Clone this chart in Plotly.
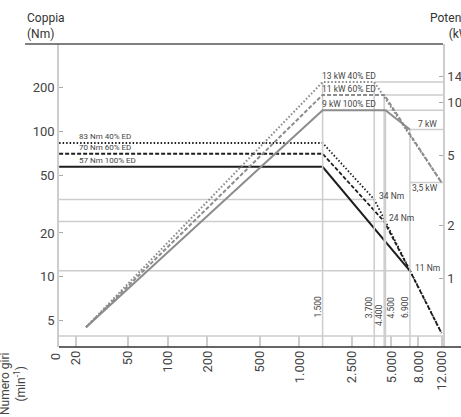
import math
import plotly.graph_objects as go

# ---------------- data ----------------
rpm_ticks = [20, 50, 100, 200, 500, 1000, 2500, 5000, 8000, 12000]
rpm_tick_text = ["20", "50", "100", "200", "500", "1.000", "2.500", "5.000", "8.000", "12.000"]
torque_ticks = [5, 10, 20, 50, 100, 200]
power_ticks = [1, 2, 5, 10, 14]

# torque curves (rpm, Nm)
t40_rpm = [15, 1500, 3700, 6900, 12000]
t40_nm = [83, 83, 34, 11, 4.1]
t60_rpm = [15, 1500, 4400, 6900, 12000]
t60_nm = [70, 70, 24, 11, 4.1]
t100_rpm = [15, 1500, 6900]
t100_nm = [57, 57, 11]

# power curves (rpm, kW)
p40_rpm = [24, 1500, 3700, 12000]
p40_kw = [0.53, 13, 13, 3.5]
p60_rpm = [24, 1500, 4400, 12000]
p60_kw = [0.53, 11, 11, 3.5]
p100_rpm = [24, 1500, 4500, 6900]
p100_kw = [0.53, 9, 9, 7]

# reference rpm lines and the power level where they start
ref_rpm = [1500, 3700, 4400, 4500, 6900]
ref_rpm_kw = [13, 13, 11, 9, 7]
ref_rpm_text = ["1.500", "3.700", "4.400", "4.500", "6.900"]

# torque reference lines (Nm, rpm where they end)
tgrid_nm = [34, 24, 11]
tgrid_rpm = [3700, 4400, 6900]
# power reference lines (kW, rpm where they start)
pgrid_kw = [13, 11, 9, 7, 3.5]
pgrid_rpm = [3700, 4400, 4500, 6900, 6900]

torque_labels = ["83 Nm 40% ED", "70 Nm 60% ED", "57 Nm 100% ED"]
torque_label_vals = [83, 70, 57]
power_labels = ["13 kW 40% ED", "11 kW 60% ED", "9 kW 100% ED"]
power_label_vals = [13, 11, 9]

# ---------------- axes ----------------
X_RANGE = [1.175, 4.09]
Y_RANGE = [0.518, 2.599]
Y2_RANGE = [-0.388, 1.330]
x_lo, x_hi = 10 ** X_RANGE[0], 10 ** X_RANGE[1]
y2_lo = 10 ** Y2_RANGE[0]

BLACK = "#1e1e1e"
GRAY = "#8c8c8c"
GRID = "#cdcdcd"
TXT = "#444444"
FONT = "Roboto"

fig = go.Figure()

# gridlines: torque
for v, r in zip(tgrid_nm, tgrid_rpm):
    fig.add_trace(go.Scatter(x=[x_lo, r], y=[v, v], mode="lines",
                             line=dict(color=GRID, width=1.5), yaxis="y",
                             hoverinfo="skip", showlegend=False))
# gridlines: power
for v, r in zip(pgrid_kw, pgrid_rpm):
    fig.add_trace(go.Scatter(x=[r, x_hi], y=[v, v], mode="lines",
                             line=dict(color=GRID, width=1.5), yaxis="y2",
                             hoverinfo="skip", showlegend=False))
# vertical reference lines
for r, k in zip(ref_rpm, ref_rpm_kw):
    fig.add_trace(go.Scatter(x=[r, r], y=[k, y2_lo], mode="lines",
                             line=dict(color=GRID, width=1.5), yaxis="y2",
                             hoverinfo="skip", showlegend=False))

# power curves
fig.add_trace(go.Scatter(x=p40_rpm, y=p40_kw, mode="lines", yaxis="y2",
                         line=dict(color=GRAY, width=2, dash="1.6px,2px"), showlegend=False))
fig.add_trace(go.Scatter(x=p60_rpm, y=p60_kw, mode="lines", yaxis="y2",
                         line=dict(color=GRAY, width=2, dash="4px,2px"), showlegend=False))
fig.add_trace(go.Scatter(x=p100_rpm, y=p100_kw, mode="lines", yaxis="y2",
                         line=dict(color=GRAY, width=2), showlegend=False))

# torque curves
fig.add_trace(go.Scatter(x=t40_rpm, y=t40_nm, mode="lines", yaxis="y",
                         line=dict(color=BLACK, width=1.8, dash="1.5px,2px"), showlegend=False))
fig.add_trace(go.Scatter(x=t60_rpm, y=t60_nm, mode="lines", yaxis="y",
                         line=dict(color=BLACK, width=1.8, dash="4px,2px"), showlegend=False))
fig.add_trace(go.Scatter(x=t100_rpm, y=t100_nm, mode="lines", yaxis="y",
                         line=dict(color=BLACK, width=2), showlegend=False))

ann = []
small = dict(family=FONT, size=8.5, color=TXT)
tiny = dict(family=FONT, size=8, color=TXT)
for t, v in zip(torque_labels, torque_label_vals):
    ann.append(dict(text=t, xref="paper", x=0.047, yref="y", y=math.log10(v),
                    xanchor="left", yanchor="middle", yshift=6.5, showarrow=False, font=tiny))
for t, v in zip(power_labels, power_label_vals):
    ann.append(dict(text=t, xref="x", x=math.log10(1500), yref="y2", y=math.log10(v),
                    xanchor="left", yanchor="middle", xshift=-3, yshift=6, showarrow=False, font=small))
ann.append(dict(text="7 kW", xref="paper", x=1, yref="y2", y=math.log10(7),
                xanchor="right", yanchor="middle", xshift=-4, yshift=6, showarrow=False, font=small))
ann.append(dict(text="3,5 kW", xref="x", x=math.log10(6900), yref="y2", y=math.log10(3.5),
                xanchor="left", yanchor="middle", xshift=0, yshift=-5, showarrow=False, font=small))
for t, v, r in zip(["34 Nm", "24 Nm", "11 Nm"], tgrid_nm, tgrid_rpm):
    ann.append(dict(text=t, xref="x", x=math.log10(r), yref="y", y=math.log10(v),
                    xanchor="left", yanchor="middle", xshift=3, yshift=3, showarrow=False, font=small))
for r, t in zip(ref_rpm, ref_rpm_text):
    ann.append(dict(text=t, xref="x", x=math.log10(r), yref="paper",
                    y=0.106 if r == 4400 else 0.132, textangle=-90,
                    xanchor="center", yanchor="middle", xshift=6 if r == 4500 else -5,
                    showarrow=False, font=small))
# "0" label at axis start
ann.append(dict(text="0", xref="paper", x=-0.0104, yref="paper", y=-0.016, textangle=-90,
                xanchor="center", yanchor="top", showarrow=False,
                font=dict(family=FONT, size=13, color=TXT)))
# titles
ann.append(dict(text="Coppia<br>(Nm)", xref="paper", x=-0.0885, yref="paper", y=1.003,
                xanchor="left", yanchor="bottom", align="left", showarrow=False,
                font=dict(family=FONT, size=12, color="#333")))
ann.append(dict(text="Potenza<br>(kW)", xref="paper", x=1.086, yref="paper", y=1.003,
                xanchor="right", yanchor="bottom", align="right", showarrow=False,
                font=dict(family=FONT, size=12, color="#333")))
ann.append(dict(text="Numero giri<br>(min<sup>-1</sup>)", xref="paper", x=-0.118, yref="paper",
                y=-0.12, textangle=-90, xanchor="center", yanchor="middle", align="center",
                showarrow=False, font=dict(family=FONT, size=12, color="#444")))

shapes = [
    # top rule
    dict(type="line", xref="paper", yref="paper", x0=-0.0885, x1=1.0, y0=1, y1=1,
         line=dict(color="#555", width=1.5)),
    # bottom grid rule
    dict(type="line", xref="paper", yref="paper", x0=0, x1=1, y0=0.0363, y1=0.0363,
         line=dict(color=GRID, width=1.5)),
    # black base line
    dict(type="line", xref="paper", yref="paper", x0=0, x1=1.06, y0=0, y1=0,
         line=dict(color="#333", width=1.5)),
]

fig.update_layout(
    width=461, height=417,
    margin=dict(l=59, r=18, t=44, b=70, autoexpand=False),
    paper_bgcolor="white", plot_bgcolor="white",
    font=dict(family=FONT, color=TXT),
    showlegend=False,
    annotations=ann, shapes=shapes,
    xaxis=dict(type="log", range=X_RANGE, tickvals=rpm_ticks, ticktext=rpm_tick_text,
               tickangle=-90, ticks="inside", ticklen=11, tickwidth=1.5, tickcolor=GRID,
               showgrid=False, zeroline=False, showline=False, automargin=False,
               tickfont=dict(family=FONT, size=13, color=TXT)),
    yaxis=dict(type="log", range=Y_RANGE, tickvals=torque_ticks,
               ticktext=[str(v) for v in torque_ticks],
               ticks="inside", ticklen=4, tickwidth=1, tickcolor="#aaa", automargin=False,
               showgrid=False, zeroline=False, showline=True, linecolor=GRID, linewidth=1.5,
               tickfont=dict(family=FONT, size=13, color=TXT)),
    yaxis2=dict(type="log", range=Y2_RANGE, overlaying="y", side="right",
                tickvals=power_ticks, ticktext=[str(v) for v in power_ticks],
                ticks="inside", ticklen=4, tickwidth=1, tickcolor="#aaa", automargin=False,
                showgrid=False, zeroline=False, showline=True, linecolor=GRID, linewidth=1.5,
                tickfont=dict(family=FONT, size=13, color=TXT)),
)

fig.write_html("out.html", config={"displayModeBar": False},
               post_script="document.body.style.margin='0px';")
